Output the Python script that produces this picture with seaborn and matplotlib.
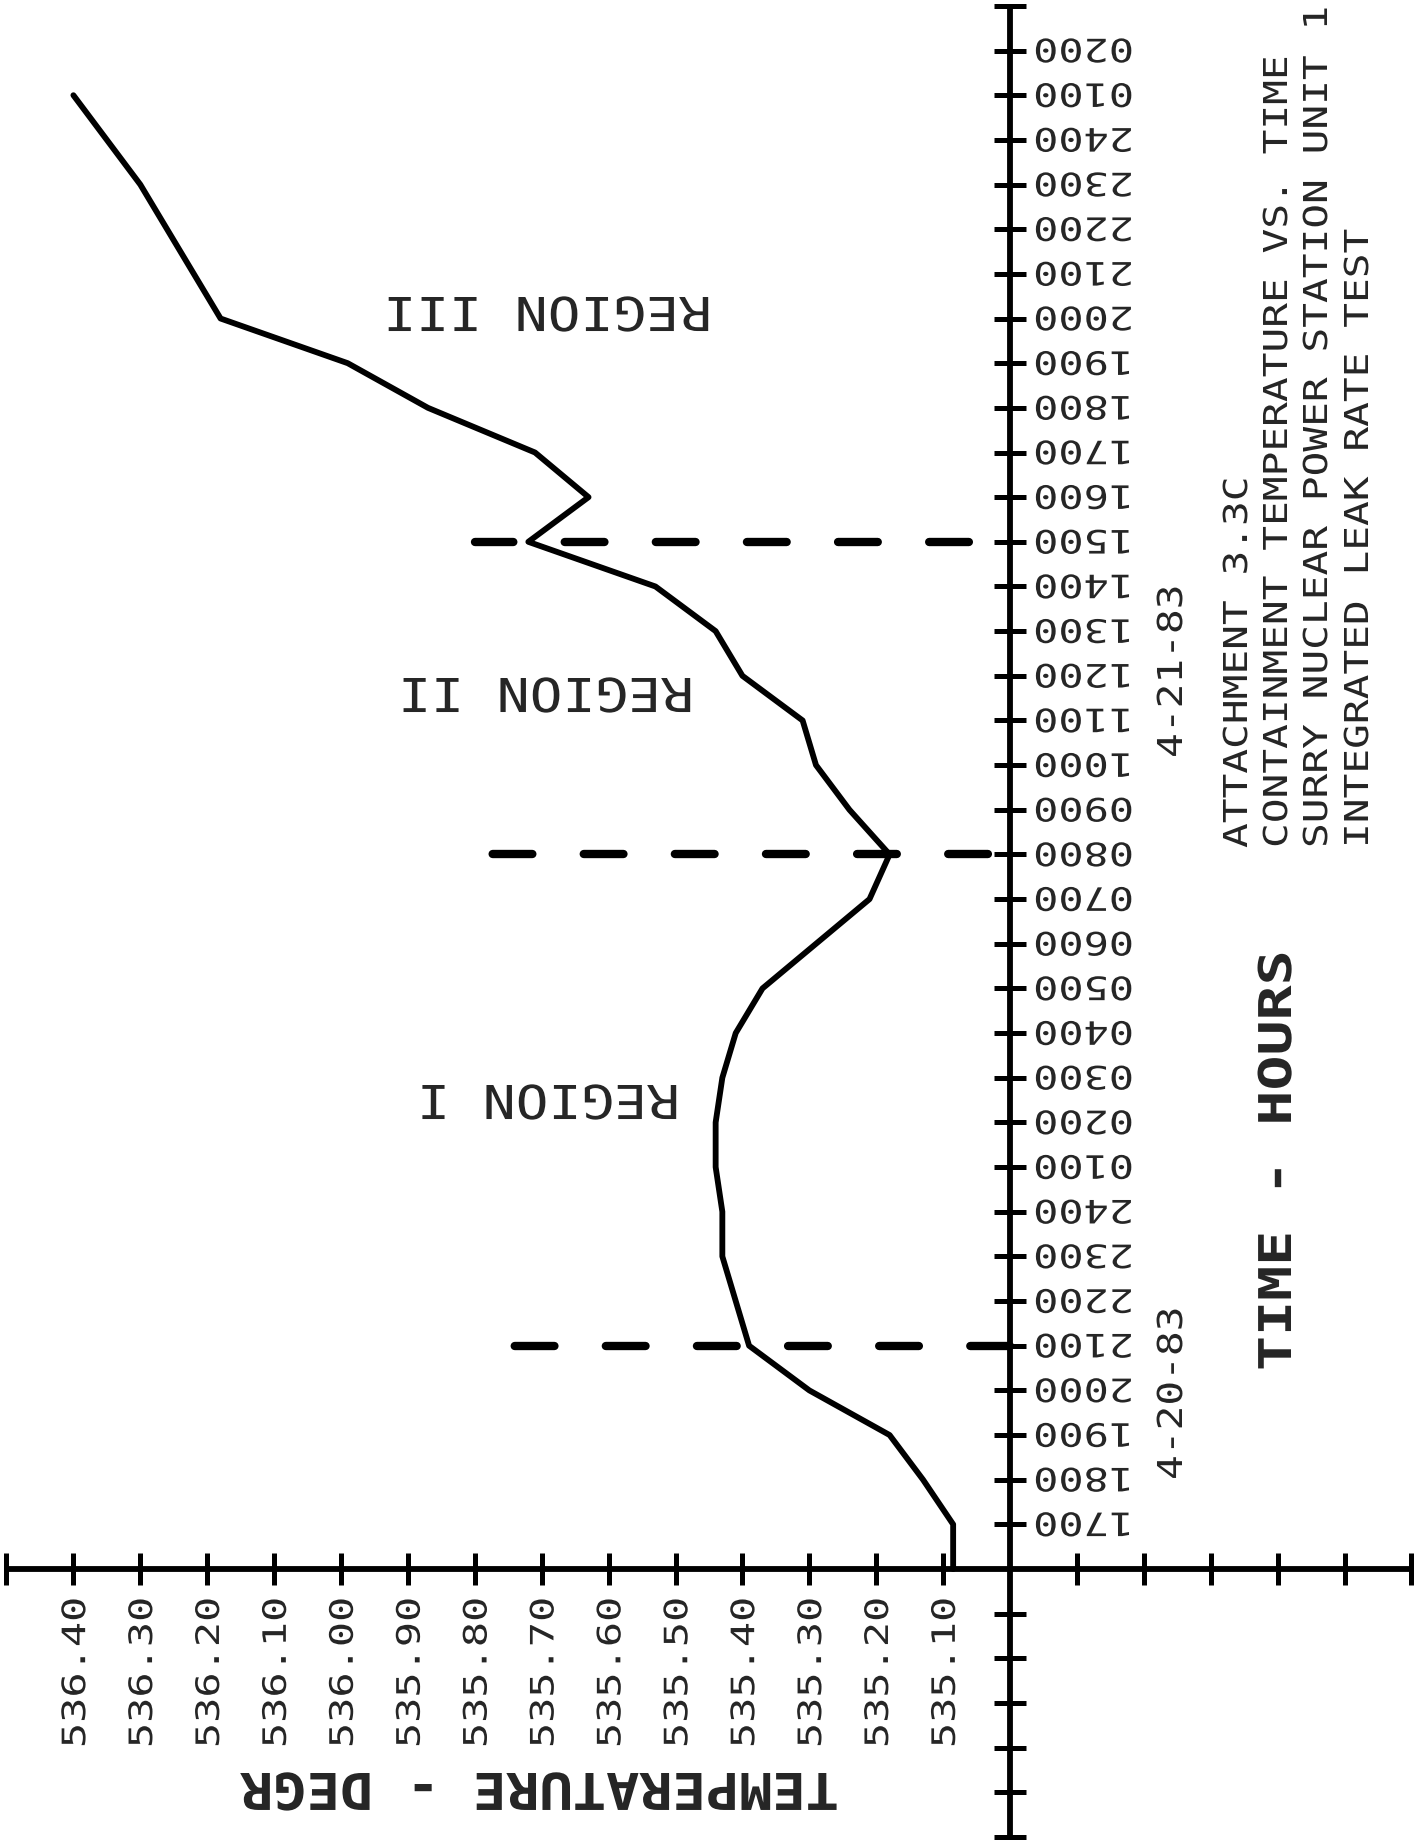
import matplotlib
matplotlib.use('Agg')
import matplotlib.pyplot as plt
import numpy as np
import pandas as pd
import seaborn as sns
from matplotlib.patheffects import AbstractPathEffect
from matplotlib.transforms import Affine2D

# hours counted from midnight of 4-20-83 (17 = 1700 on 4-20, 32 = 0800 on 4-21)
hours = list(range(16, 50))
temps = [535.085, 535.085, 535.13, 535.18, 535.30, 535.39, 535.41, 535.43,
         535.43, 535.44, 535.44, 535.43, 535.41, 535.37, 535.29, 535.21,
         535.18, 535.24, 535.29, 535.31, 535.40, 535.44, 535.53, 535.72,
         535.63, 535.71, 535.87, 535.99, 536.18, 536.22, 536.26, 536.30,
         536.35, 536.40]

temp_ticks = [round(534.4 + 0.1 * i, 2) for i in range(22) if i != 6]
temp_labels = [536.40, 536.30, 536.20, 536.10, 536.00, 535.90, 535.80,
               535.70, 535.60, 535.50, 535.40, 535.30, 535.20, 535.10]
hour_ticks = [h for h in range(10, 52) if h != 16]
hour_labels = list(range(17, 51))

region_breaks = [21, 32, 39]
break_starts = [535.76, 535.79, 535.80]
break_offsets = [0.0, 49.7, 36.0]

title_lines = ['ATTACHMENT 3.3C',
               'CONTAINMENT TEMPERATURE VS. TIME',
               'SURRY NUCLEAR POWER STATION UNIT 1',
               'INTEGRATED LEAK RATE TEST']
region_names = ['REGION I', 'REGION II', 'REGION III']

W, H = 1423, 1846


class Stretch(AbstractPathEffect):
    # widen the glyphs along the baseline, plotter letters are wide
    def __init__(self, sx):
        super().__init__()
        self.sx = sx

    def draw_path(self, renderer, gc, tpath, affine, rgbFace=None):
        renderer.draw_path(gc, tpath, Affine2D().scale(self.sx, 1.0) + affine, rgbFace)


sns.set_style('white')
plt.rcParams['font.family'] = ['DejaVu Sans Mono', 'DejaVu Sans']
plt.rcParams['lines.scale_dashes'] = False

fig = plt.figure(figsize=(W / 100, H / 100), dpi=100)
ax = fig.add_axes([0, 0, 1, 1])

# axes of the plotter drawing
ax.plot([536.5, 534.4], [16, 16], color='black', lw=4.2, solid_capstyle='butt')
ax.plot([535.0, 535.0], [10, 51], color='black', lw=4.2, solid_capstyle='butt')
ax.plot(temp_ticks, [16] * len(temp_ticks), ls='none', marker='|', ms=23, mew=3.6, color='black')
ax.plot([535.0] * len(hour_ticks), hour_ticks, ls='none', marker='_', ms=23, mew=3.6, color='black')

# region boundaries
for h, start, off in zip(region_breaks, break_starts, break_offsets):
    ax.plot([535.0, start], [h, h], color='black', lw=6.0,
            linestyle=(off, (28.6, 37.0)), dash_capstyle='round')

df = pd.DataFrame({'hour': hours, 'temp': temps})
sns.lineplot(data=df, x='temp', y='hour', sort=False, estimator=None,
             color='black', lw=4.2, ax=ax)
ax.set_xlim(536.5097, 534.3827)
ax.set_ylim(9.798, 51.132)
ax.axis('off')

tick_fx = [Stretch(1.3)]
for t in temp_labels:
    ax.annotate(f'{t:.2f}', xy=(t, 16), xytext=(8.46, -128.9), textcoords='offset points',
                rotation=90, rotation_mode='anchor', ha='left', va='baseline',
                fontsize=23.2, path_effects=tick_fx)
for h in hour_labels:
    ax.annotate(f'{(h - 1) % 24 + 1:02d}00', xy=(535.0, h), xytext=(89.3, 8.46),
                textcoords='offset points', rotation=180, rotation_mode='anchor',
                ha='left', va='baseline', fontsize=23.2, path_effects=tick_fx)


def put(px, py, s, rot, size, sx, weight='normal'):
    fig.text(px / W, 1 - py / H, s, rotation=rot, rotation_mode='anchor',
             ha='left', va='baseline', fontsize=size, fontweight=weight,
             path_effects=[Stretch(sx)])


for i, line in enumerate(title_lines):
    put([1247, 1287, 1327, 1368][i], 848, line, 90, 23.7, 1.25)

put(1182, 758, '4-21-83', 90, 24.7, 1.2)
put(1182, 1480, '4-20-83', 90, 24.7, 1.2)
put(1291, 1371, 'TIME - HOURS', 90, 32.5, 1.29, 'bold')

for name, (px, py) in zip(region_names, [(680, 1085), (694, 678), (712, 297)]):
    put(px, py, name, 180, 33.6, 1.17)

put(839, 1773, 'TEMPERATURE - DEGR', 180, 36.5, 1.09, 'bold')

fig.savefig('out.png', dpi=100)
